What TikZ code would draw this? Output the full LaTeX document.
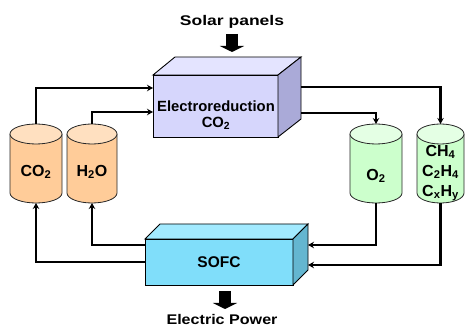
\documentclass[tikz,border=0pt]{standalone}
\usepackage{fontspec}
\setmainfont{Liberation Sans}
\usetikzlibrary{calc,arrows.meta}
\definecolor{erfront}{RGB}{214,214,252}
\definecolor{ertop}{RGB}{228,228,255}
\definecolor{erside}{RGB}{170,170,216}
\definecolor{sofront}{RGB}{128,222,250}
\definecolor{sotop}{RGB}{162,234,255}
\definecolor{soside}{RGB}{100,182,208}
\definecolor{orbody}{RGB}{255,204,153}
\definecolor{ortop}{RGB}{255,224,192}
\definecolor{grbody}{RGB}{204,255,204}
\definecolor{grtop}{RGB}{228,255,228}
\newcommand\mycyl[4]{%
  \fill[#3] ($(#1.north west)+(0,-10)$) -- ($(#1.south west)+(0,10)$) arc[start angle=180,end angle=360,x radius=#2,y radius=10pt] -- ($(#1.north east)+(0,-10)$) -- cycle;
  \draw[cylline] ($(#1.north west)+(0,-10)$) -- ($(#1.south west)+(0,10)$) arc[start angle=180,end angle=360,x radius=#2,y radius=10pt] -- ($(#1.north east)+(0,-10)$);
  \draw[cylline,fill=#4] ($(#1.north)+(0,-10)$) ellipse[x radius=#2,y radius=10pt];
}
\begin{document}
\begin{tikzpicture}[x=1pt,y=1pt,
  conn/.style={line width=2.2pt, -{Stealth[length=6pt,width=6.5pt]}},
  cylline/.style={line width=0.8pt, draw=black!85},
  boxline/.style={line width=0.9pt, draw=black},
  lbl/.style={font=\bfseries\fontsize{16}{20}\selectfont, align=center, inner sep=0},
  cylbox/.style={minimum width=#1, minimum height=79pt, inner sep=0, outer sep=0},
  facebox/.style={draw=black, line width=0.9pt, inner sep=0, outer sep=0},
  bigarrow/.style={line width=12pt, -{Triangle[length=6pt,width=24pt]}},
  toplbl/.style={font=\bfseries\fontsize{14}{16}\selectfont, inner sep=0}
]
\useasboundingbox (0,0) rectangle (465,326);

% cylinders
\node[cylbox=52pt] (co2) at (36,162.5) {};
\node[cylbox=50pt] (h2o) at (92,162.5) {};
\node[cylbox=52pt] (o2) at (376,162.5) {};
\node[cylbox=47pt] (ch) at (440.5,162.5) {};
\mycyl{co2}{26pt}{orbody}{ortop}
\mycyl{h2o}{25pt}{orbody}{ortop}
\mycyl{o2}{26pt}{grbody}{grtop}
\mycyl{ch}{23.5pt}{grbody}{grtop}
\node[lbl] (co2t) at (36,154) {CO\textsubscript{2}};
\node[lbl] (h2ot) at (92,154) {H\textsubscript{2}O};
\node[lbl] (o2t) at (376,150) {O\textsubscript{2}};
\node[lbl] (cht) at (440.5,153) {CH\textsubscript{4}\\C\textsubscript{2}H\textsubscript{4}\\C\textsubscript{x}H\textsubscript{y}};

% electroreduction box
\node[facebox, fill=erfront, minimum width=125pt, minimum height=62pt] (er) at (215.5,220) {};
\draw[boxline, fill=ertop] (er.north west) -- ++(22,18) -- ($(er.north east)+(23,18)$) -- (er.north east) -- cycle;
\draw[boxline, fill=erside] (er.north east) -- ++(23,18) -- ($(er.south east)+(23,18)$) -- (er.south east) -- cycle;
\node[font=\bfseries\fontsize{14.8}{16}\selectfont, align=center, inner sep=0] (ertxt) at (216,211) {Electroreduction\\CO\textsubscript{2}};

% SOFC box
\node[facebox, fill=sofront, minimum width=148pt, minimum height=46pt, font=\bfseries\fontsize{15.5}{18}\selectfont] (sofc) at (219,64) {SOFC};
\draw[boxline, fill=sotop] (sofc.north west) -- ++(15,15) -- ($(sofc.north east)+(15,15)$) -- (sofc.north east) -- cycle;
\draw[boxline, fill=soside] (sofc.north east) -- ++(15,15) -- ($(sofc.south east)+(15,15)$) -- (sofc.south east) -- cycle;

% top and bottom labels
\node[toplbl, xscale=1.25] (solar) at (232,304) {Solar panels};
\coordinate (sa1) at (232,292);
\coordinate (sa2) at (232,274);
\draw[bigarrow] (sa1) -- (sa2);
\node[toplbl, xscale=1.15] (power) at (222,7) {Electric Power};
\coordinate (pa1) at (225,35);
\coordinate (pa2) at (225,17);
\draw[bigarrow] (pa1) -- (pa2);

% connectors: inputs to electroreduction
\draw[conn] (co2.north) |- ($(er.north west)+(0,-13)$);
\draw[conn] (h2o.north) |- ($(er.north west)+(0,-37)$);
% outputs of electroreduction
\coordinate (erR1) at ($(er.north east)+(23,-12)$);
\coordinate (erR2) at ($(er.north east)+(23,-38)$);
\draw[conn] (erR1) -| (ch.north);
\draw[conn] (erR2) -| (o2.north);
% SOFC outputs back to tanks
\draw[conn] ($(sofc.north west)+(0,-23)$) -| (co2.south);
\draw[conn] ($(sofc.north west)+(0,-6)$) -| (h2o.south);
% tanks to SOFC
\draw[conn] (o2.south) |- ($(sofc.north east)+(15,-6)$);
\draw[conn] (ch.south) |- ($(sofc.north east)+(15,-26)$);
\end{tikzpicture}
\end{document}
